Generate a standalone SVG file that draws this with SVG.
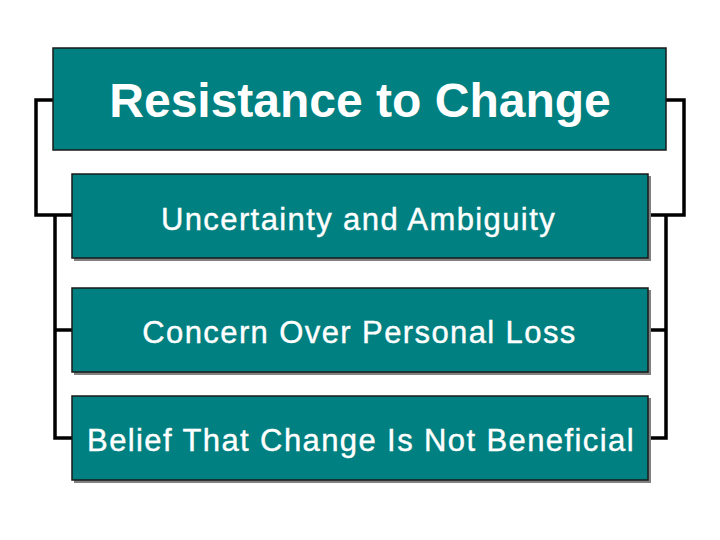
<svg xmlns="http://www.w3.org/2000/svg" width="720" height="540" viewBox="0 0 720 540">
<style>
.box{fill:#008080;stroke:#1a1a1a;stroke-width:1.5}
.shadow{fill:#808080}
.line{fill:none;stroke:#000;stroke-width:3.5}
.t{fill:#fff;font-family:"Liberation Sans",Arial,sans-serif;text-anchor:middle}
.title{font-size:48px;font-weight:bold}
.sub{font-size:31px;letter-spacing:1.4px;stroke:#fff;stroke-width:0.4}
</style>
<rect width="720" height="540" fill="#fff"/>
<g id="connectors">
<polyline class="line" points="53,100 36,100 36,215 72,215"/>
<polyline class="line" points="55,215 55,438 72,438"/>
<line class="line" x1="55" y1="330" x2="72" y2="330"/>
<polyline class="line" points="666,100 684,100 684,215 648,215"/>
<polyline class="line" points="666,215 666,438 648,438"/>
<line class="line" x1="666" y1="330" x2="648" y2="330"/>
</g>
<g id="title">
<rect class="box" x="53" y="48" width="613" height="102"/>
<text class="t title" x="360" y="117">Resistance to Change</text>
</g>
<g id="uncertainty">
<rect class="shadow" x="74" y="176" width="577" height="85"/>
<rect class="box" x="72" y="174" width="576" height="84"/>
<text class="t sub" x="358.5" y="230">Uncertainty and Ambiguity</text>
</g>
<g id="concern">
<rect class="shadow" x="74" y="290" width="577" height="85"/>
<rect class="box" x="72" y="288" width="576" height="84"/>
<text class="t sub" x="359.5" y="343">Concern Over Personal Loss</text>
</g>
<g id="belief">
<rect class="shadow" x="74" y="398" width="577" height="85"/>
<rect class="box" x="72" y="396" width="576" height="84"/>
<text class="t sub" x="361" y="451">Belief That Change Is Not Beneficial</text>
</g>
</svg>
